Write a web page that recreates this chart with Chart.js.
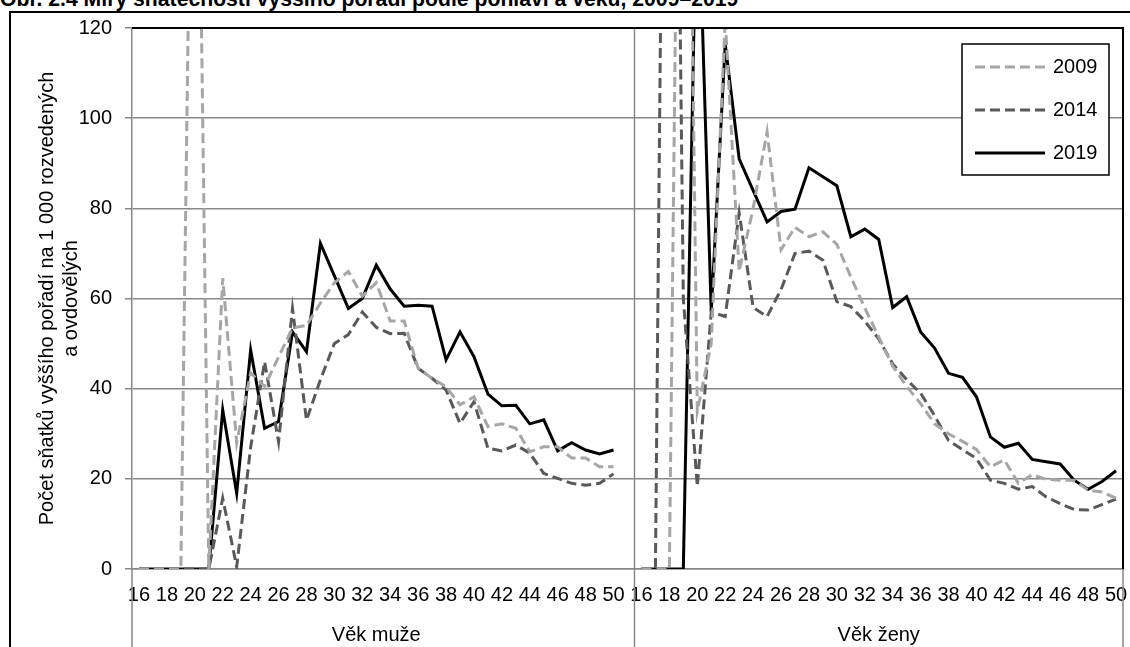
<!DOCTYPE html>
<html>
<head>
<meta charset="utf-8">
<script src="https://cdn.jsdelivr.net/npm/chart.js@4"></script>
<style>
  html, body { margin: 0; padding: 0; background: #fff; overflow: hidden; }
  body { width: 1130px; height: 647px; position: relative; font-family: "Liberation Sans", Arial, sans-serif; }
  #title { position: absolute; left: 0; top: -13px; font-weight: bold; font-size: 21.2px; white-space: nowrap; color: #000; }
  #frame { position: absolute; left: 9px; top: 11px; width: 1200px; height: 700px; border: 2px solid #000; }
  #wrap { position: absolute; left: 0; top: 0; width: 1130px; height: 647px; }
</style>
</head>
<body>
<div id="title">Obr. 2.4 Míry sňatečnosti vyššího pořadí podle pohlaví a věku, 2009–2019</div>
<div id="frame"></div>
<div id="wrap"><canvas id="chart" width="1130" height="647"></canvas></div>
<script>
// ages 16-50 for each sex
const ages = [16, 17, 18, 19, 20, 21, 22, 23, 24, 25, 26, 27, 28, 29, 30, 31, 32, 33,
              34, 35, 36, 37, 38, 39, 40, 41, 42, 43, 44, 45, 46, 47, 48, 49, 50];
const groupLabels = ['Věk muže', 'Věk ženy'];
const yTitle = ['Počet sňatků vyššího pořadí na 1 000 rozvedených', 'a ovdovělých'];
const years = ['2009', '2014', '2019'];

// men (per 1 000 divorced and widowed)
const men2009 = [0, 0, 0, 0, 230, 0, 64.5, 28, 43.5, 40.5, 47, 53.5, 54, 59, 63.5, 66, 60.5, 63.5,
                 55, 55, 44.5, 42.3, 40.4, 36.4, 38.2, 31.6, 32.2, 31.2, 26, 27.1, 27.1, 24.6, 24.6, 22.7, 22.7];
const men2014 = [0, 0, 0, 0, 0, 0, 15.7, 0.5, 27, 46, 28.2, 57.8, 33, 42, 50, 52, 57, 53.6,
                 52.2, 52.3, 44.5, 42.3, 39.7, 32.3, 37.1, 26.8, 26.2, 27.5, 25.7, 21.2, 20.1, 19, 18.6, 19, 21.1];
const men2019 = [0, 0, 0, 0, 0, 0, 35.3, 16.8, 48.6, 31.2, 32.7, 52.6, 48.2, 72.2, 65, 57.8, 60, 67.4,
                 62.1, 58.3, 58.5, 58.3, 46.4, 52.6, 47.1, 38.8, 36.2, 36.3, 32.2, 33.1, 26.2, 28, 26.4, 25.5, 26.4];

// women
const women2009 = [0, 0, 0, 280, 35, 50, 122, 66, 80, 97, 70.8, 75.8, 73.7, 74.8, 72, 64.8, 57.9, 51.5,
                   45, 40.5, 36.7, 32.2, 30, 28.3, 26.5, 22.7, 24.2, 19, 20.9, 19.9, 19.7, 19.7, 17.5, 17.1, 15.7];
const women2014 = [0, 0, 330, 60, 18.3, 57, 56, 79, 58, 56, 62, 70, 70.5, 68.5, 59.3, 58.2, 55, 51,
                   45.5, 42, 39, 34, 28.5, 26.5, 24.5, 19.7, 19, 17.7, 18.3, 16, 14.5, 13.2, 13.1, 14.3, 15.5];
const women2019 = [0, 0, 0, 0, 158, 57, 116.5, 91, 84, 77, 79.3, 79.8, 89, 87, 85, 73.7, 75.4, 73.1,
                   58, 60.4, 52.6, 49, 43.4, 42.5, 38.2, 29.3, 27, 27.9, 24.3, 23.8, 23.3, 19.7, 17.7, 19.4, 21.8];

// one empty slot between the two groups
const labels = [...ages, '', ...ages];
const join = (m, w) => [...m, null, ...w];

const FONT = '"Liberation Sans", Arial, sans-serif';
const GRID = '#878787';

const decorations = {
    id: 'decorations',
    beforeDatasetsDraw(chart) {
        const { ctx, chartArea: a, scales: { x } } = chart;
        const half = (x.getPixelForValue(1) - x.getPixelForValue(0)) / 2;
        const sep = x.getPixelForValue(ages.length + 1) - half;
        ctx.save();
        ctx.strokeStyle = GRID;
        ctx.lineWidth = 1.5;
        ctx.beginPath();
        ctx.moveTo(sep, a.top); ctx.lineTo(sep, chart.height);
        ctx.moveTo(a.left, a.bottom); ctx.lineTo(a.left, chart.height);
        ctx.moveTo(a.right, a.bottom); ctx.lineTo(a.right, chart.height);
        ctx.stroke();
        ctx.restore();
    },
    afterDatasetsDraw(chart) {
        const { ctx, chartArea: a, scales: { x } } = chart;
        ctx.save();
        // plot border top + right
        ctx.strokeStyle = '#000';
        ctx.lineWidth = 2;
        ctx.beginPath();
        ctx.moveTo(a.left, a.top); ctx.lineTo(a.right, a.top); ctx.lineTo(a.right, a.bottom);
        ctx.stroke();

        // group labels under the ticks
        ctx.fillStyle = '#000';
        ctx.font = '20px ' + FONT;
        ctx.textAlign = 'center';
        ctx.textBaseline = 'alphabetic';
        const menMid = (x.getPixelForValue(0) + x.getPixelForValue(ages.length - 1)) / 2;
        const womenMid = (x.getPixelForValue(ages.length + 1) + x.getPixelForValue(2 * ages.length)) / 2;
        ctx.fillText(groupLabels[0], menMid, 641);
        ctx.fillText(groupLabels[1], womenMid, 641);

        // y axis title, rotated
        ctx.save();
        ctx.translate(0, (a.top + a.bottom) / 2);
        ctx.rotate(-Math.PI / 2);
        ctx.fillText(yTitle[0], 0, 53);
        ctx.fillText(yTitle[1], 0, 77);
        ctx.restore();

        // legend box
        const bx = a.right - 161, by = a.top + 16, bw = 147, bh = 131;
        ctx.fillStyle = '#fff';
        ctx.fillRect(bx, by, bw, bh);
        ctx.strokeStyle = '#000';
        ctx.lineWidth = 1.5;
        ctx.strokeRect(bx, by, bw, bh);
        chart.data.datasets.forEach((ds, i) => {
            const yy = by + 23 + i * 43;
            ctx.strokeStyle = ds.borderColor;
            ctx.lineWidth = ds.borderWidth;
            ctx.setLineDash(ds.borderDash || []);
            ctx.beginPath();
            ctx.moveTo(bx + 13, yy); ctx.lineTo(bx + 83, yy);
            ctx.stroke();
            ctx.setLineDash([]);
            ctx.fillStyle = '#000';
            ctx.textAlign = 'left';
            ctx.textBaseline = 'middle';
            ctx.fillText(ds.label, bx + 91, yy);
        });
        ctx.restore();
    }
};

new Chart(document.getElementById('chart'), {
    type: 'line',
    data: {
        labels: labels,
        datasets: [
            { label: years[0], data: join(men2009, women2009), borderColor: '#a6a6a6', borderWidth: 3, borderDash: [10, 5] },
            { label: years[1], data: join(men2014, women2014), borderColor: '#595959', borderWidth: 3, borderDash: [10, 5] },
            { label: years[2], data: join(men2019, women2019), borderColor: '#000000', borderWidth: 3 }
        ]
    },
    options: {
        responsive: false,
        animation: false,
        spanGaps: false,
        elements: { point: { radius: 0 }, line: { tension: 0 } },
        layout: { padding: { top: 28, right: 7, left: 0, bottom: 0 } },
        plugins: { legend: { display: false }, tooltip: { enabled: false } },
        scales: {
            x: {
                type: 'category',
                offset: true,
                // invisible tick marks give the label gap without widening the side padding
                grid: { display: true, drawOnChartArea: false, tickLength: 14, tickColor: 'rgba(0,0,0,0)' },
                border: { color: GRID, width: 1.5 },
                ticks: {
                    autoSkip: false, maxRotation: 0, minRotation: 0, padding: 0,
                    color: '#000', font: { size: 20, family: FONT },
                    callback: function (v) {
                        const l = this.getLabelForValue(v);
                        return (l !== '' && l % 2 === 0) ? String(l) : '';
                    }
                },
                afterFit: s => { s.height = 78; }
            },
            y: {
                min: 0, max: 120,
                grid: { color: GRID, lineWidth: 1.5, tickLength: 7, tickColor: GRID },
                border: { color: GRID, width: 1.5 },
                ticks: { stepSize: 20, padding: 13, color: '#000', font: { size: 20, family: FONT } },
                afterFit: s => { s.width = 132; }
            }
        }
    },
    plugins: [decorations]
});
</script>
</body>
</html>
